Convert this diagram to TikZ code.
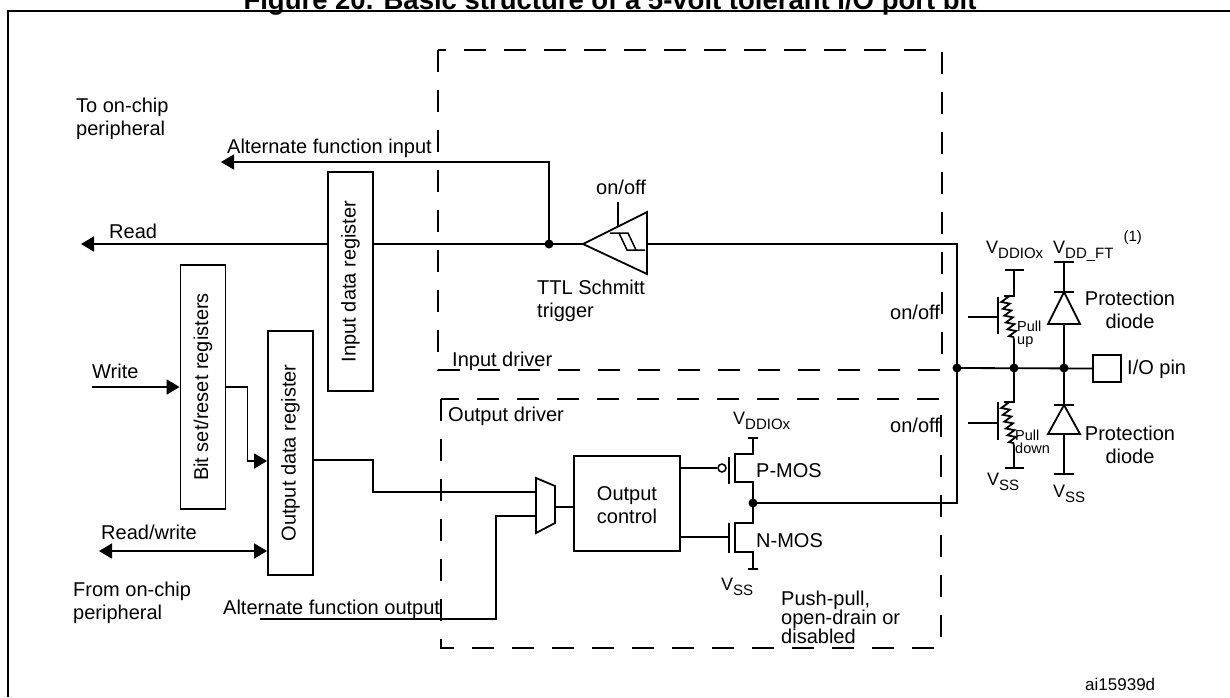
\documentclass[tikz,border=0pt]{standalone}
\usepackage{fontspec}
\setmainfont{Liberation Sans}
\usetikzlibrary{arrows.meta,decorations.pathmorphing}

% V with a lowered index, as in V_DDIOx
\newcommand{\vsub}[1]{V\raisebox{-5pt}{\fontsize{15}{15}\selectfont #1}}

\tikzset{
  wire/.style={line width=1.8pt},
  drv/.style={line width=1.8pt, dash pattern=on 22pt off 18pt},
  reg/.style={draw, line width=1.8pt, fill=white, inner sep=0pt, minimum width=45pt},
  txt/.style={inner sep=0pt, anchor=base west, align=left, font=\fontsize{20}{22.5}\selectfont},
  supply/.style={inner sep=0pt, anchor=base west, font=\fontsize{18}{18}\selectfont},
  tiny/.style={inner sep=0pt, anchor=base west, align=left, font=\fontsize{14.5}{13}\selectfont},
  jn/.style={circle, fill, inner sep=0pt, minimum size=9pt},
  tip/.style={-{Triangle[length=13pt,width=15pt]}},
  resist/.style={decorate, decoration={zigzag, segment length=7pt, amplitude=4pt}},
}

\begin{document}
\begin{tikzpicture}[x=1pt, y=-1pt]
\useasboundingbox (0,0) rectangle (1230,697);
\node[anchor=base, inner sep=0pt, font=\bfseries\fontsize{27.5}{27.5}\selectfont] (title) at (610,9) {Figure 20. Basic structure of a 5-volt tolerant I/O port bit};
\draw[line width=2.4pt] (8,697) -- (8,11) -- (1230,11);

% driver frames
\draw[drv] (438,50) rectangle (942,370);
\draw[drv] (441,399) rectangle (941,648);
\node[txt] (indrv) at (452,366) {Input driver};
\node[txt] (outdrv) at (448,421) {Output driver};

% registers
\node[reg, minimum height=219pt] (inreg) at (350.5,281.5) {\rotatebox{90}{\fontsize{20}{20}\selectfont Input data register}};
\node[reg, minimum height=244pt] (bsr) at (203,387) {\rotatebox{90}{\fontsize{20}{20}\selectfont Bit set/reset registers}};
\node[reg, minimum height=244pt] (odr) at (290.5,453) {\rotatebox{90}{\fontsize{20}{20}\selectfont Output data register}};

% input path
\node[jn] (tap) at (549,244) {};
\coordinate (rdend) at (81,244);
\coordinate (afiend) at (221,162);
\coordinate (stin) at (583,244);
\coordinate (stout) at (647,244);
\draw[wire, tip] (tap.center) |- (afiend);
\draw[wire] (stin) -- (tap.center) -- (inreg.east |- tap);
\draw[wire, tip] (inreg.west |- tap) -- (rdend);
\draw[wire] (stin) -- (647,212) -- (647,274) -- cycle;
\draw[line width=1.5pt] (610,233) -- (628,233) -- (636,250) -- (645,250);
\draw[line width=1.5pt] (619,233) -- (627,250) -- (636,250);
\draw[wire] (618,202) -- (618,226);

\node[txt] (tochip) at (76,135) {To on-chip\\peripheral};
\node[txt] (afi) at (227,153) {Alternate function input};
\node[txt] (rd) at (109,238) {Read};
\node[txt] (sten) at (596,194) {on/off};
\node[txt] (ttl) at (537,317) {TTL Schmitt\\trigger};

% output path
\coordinate (wrin) at (92,387);
\coordinate (rwend) at (99,551);
\coordinate (afoend) at (260,619);
\coordinate (muxa) at (536,492);
\coordinate (muxb) at (536,516);
\coordinate (muxo) at (555,507);
\draw[wire, tip] (wrin) -- (bsr.west |- wrin);
\draw[wire, tip] (bsr.east) -- ++(21,0) |- ([yshift=-8pt]odr.west);
\draw[wire, {Triangle[length=13pt,width=15pt]}-{Triangle[length=13pt,width=15pt]}] (rwend) -- (odr.west |- rwend);
\draw[wire] ([yshift=-7pt]odr.east) -- ++(59,0) |- (muxa);
\draw[wire] (afoend) -- ++(236,0) |- (muxb);
\draw[wire] (536,478) -- (555,486) -- (555,523) -- (536,533) -- cycle;

\node[txt] (wr) at (92,378) {Write};
\node[txt] (rw) at (101,539) {Read/write};
\node[txt] (fromchip) at (73,619) {From on-chip\\peripheral};
\node[txt] (afo) at (223,614) {Alternate function output};

\node[draw, wire, minimum width=106pt, minimum height=95pt, inner sep=0pt] (ctrl) at (627,503.5) {};
\node[txt, anchor=base, align=center] (ctrltxt) at (627,523) {Output\\control};
\draw[wire] (muxo) -- (muxo -| ctrl.west);

% output transistors
\node[jn] (mosd) at (753,503) {};
\node[draw, circle, line width=1.5pt, inner sep=0pt, minimum size=8pt] (pbub) at (722,468) {};
\coordinate (ng) at (729,537);
\draw[wire] (pbub.west -| ctrl.east) -- (pbub.west);
\draw[wire] (ng -| ctrl.east) -- (ng);
\draw[wire] (729,457) -- (729,484);
\draw[wire] (729,523) -- (729,553);
\draw[wire] (748,438) -- (758,438);
\draw[wire] (753,438) -- (753,454) -- (735,454) -- (735,482) -- (753,482) -- (mosd.center);
\draw[wire] (mosd.center) -- (753,523) -- (735,523) -- (735,552) -- (753,552) -- (753,569);
\draw[wire] (748,569) -- (758,569);

\node[supply] (vddp) at (733,424) {\vsub{DDIOx}};
\node[txt] (pmos) at (756,477) {P-MOS};
\node[txt] (nmos) at (756,547) {N-MOS};
\node[supply] (vssn) at (721,590) {\vsub{SS}};
\node[txt, font=\fontsize{20}{19}\selectfont] (mode) at (781,643) {Push-pull,\\open-drain or\\disabled};
\node[txt] (outen) at (890,432) {on/off};
\node[txt] (inen) at (890,319) {on/off};

% pad side
\node[jn] (pad) at (957,368) {};
\node[jn] (rj) at (1014,368) {};
\node[jn] (dj) at (1064,368) {};
\node[draw, wire, minimum width=28pt, minimum height=27pt, inner sep=0pt] (iopin) at (1107,368.5) {};
\draw[wire] (stout) -| (pad.center) |- (mosd.center);
\draw[wire] (pad.center) -- (iopin.west);
\node[txt] (iotxt) at (1127,374) {I/O pin};

% pull-up / pull-down
\coordinate (puin) at (968,317);
\coordinate (pdin) at (968,423);
\draw[wire] (puin) -- (998,317);
\draw[wire] (998,297) -- (998,334);
\draw[wire] (1005,270) -- (1024,270);
\draw[wire] (1014,270) -- (1014,296) -- (1004,296);
\draw[wire, resist] (1004,296) -- (1014,340);
\draw[wire] (1014,340) -- (rj.center);
\draw[wire] (pdin) -- (998,423);
\draw[wire] (998,402) -- (998,440);
\draw[wire] (rj.center) -- (1014,402) -- (1004,402);
\draw[wire, resist] (1004,402) -- (1014,446);
\draw[wire] (1014,446) -- (1014,468);
\draw[wire] (1005,468) -- (1024,468);
\node[tiny] (pu) at (1017,344) {Pull\\up};
\node[tiny] (pd) at (1015,453) {Pull\\down};
\node[supply] (vddr) at (986,253) {\vsub{DDIOx}};
\node[supply] (vssr) at (987,485) {\vsub{SS}};

% protection diodes
\draw[wire] (1054,262) -- (1074,262);
\draw[wire] (1064,262) -- (dj.center) -- (1064,474);
\draw[wire] (1054,474) -- (1074,474);
\draw[wire, fill=white] (1064,292) -- (1048,324) -- (1080,324) -- cycle;
\draw[wire] (1054,292) -- (1074,292);
\draw[wire, fill=white] (1064,405) -- (1048,434) -- (1080,434) -- cycle;
\draw[wire] (1054,405) -- (1074,405);
\node[supply] (vddft) at (1053,253) {\vsub{DD\_FT}\hspace{10pt}\raisebox{12pt}{\fontsize{15}{15}\selectfont (1)}};
\node[supply] (vssd) at (1053,497) {\vsub{SS}};
\node[txt, anchor=base, align=center] (prot1) at (1130,328) {Protection\\diode};
\node[txt, anchor=base, align=center] (prot2) at (1130,463) {Protection\\diode};

\node[txt, font=\fontsize{17}{17}\selectfont] (ref) at (1085,690) {ai15939d};
\end{tikzpicture}
\end{document}
